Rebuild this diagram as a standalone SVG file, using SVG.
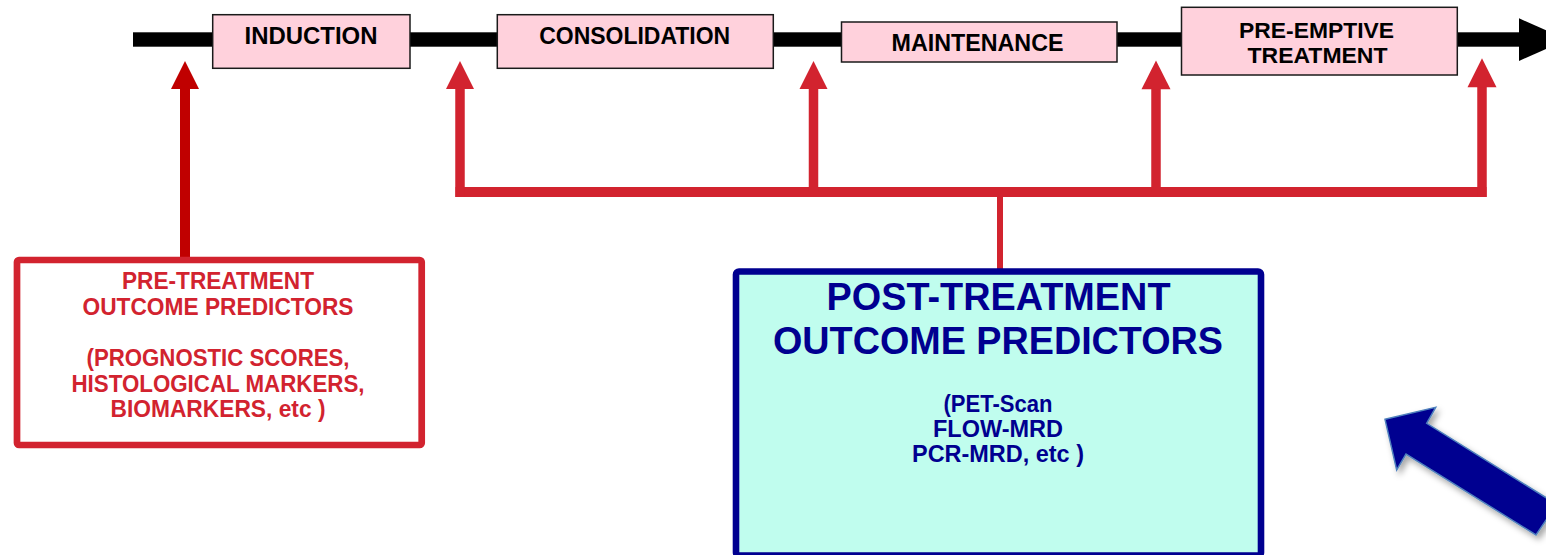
<svg xmlns="http://www.w3.org/2000/svg" width="1546" height="555" viewBox="0 0 1546 555">
  <style>
    .phase { fill: #FFD1DC; stroke: #1a1a1a; stroke-width: 1.5; }
    .lbl { font-family: "Liberation Sans", Arial, sans-serif; font-weight: bold; text-anchor: middle; }
    .dark { fill: #000000; }
    .red { fill: #D2232F; }
    .navy { fill: #000090; }
    .conn { stroke: #D2232F; fill: none; }
    .head { fill: #D2232F; }
  </style>
  <defs>
    <filter id="shadow" x="-20%" y="-20%" width="140%" height="140%">
      <feDropShadow dx="3" dy="4" stdDeviation="3" flood-color="#000000" flood-opacity="0.35"/>
    </filter>
  </defs>
  <rect width="1546" height="555" fill="#ffffff"/>

  <!-- timeline bar with arrowhead -->
  <g id="timeline">
    <rect x="133" y="32.3" width="1388" height="14.4" fill="#000000"/>
    <polygon points="1519,18.3 1567,39.5 1519,61" fill="#000000"/>
  </g>

  <!-- treatment phases -->
  <g id="induction">
    <rect class="phase" x="212.7" y="14.7" width="197.3" height="53.6"/>
    <text class="lbl dark" x="311" y="44" font-size="24" textLength="133" lengthAdjust="spacingAndGlyphs">INDUCTION</text>
  </g>
  <g id="consolidation">
    <rect class="phase" x="497.3" y="14.7" width="276" height="53.6"/>
    <text class="lbl dark" x="634.7" y="44" font-size="24" textLength="191" lengthAdjust="spacingAndGlyphs">CONSOLIDATION</text>
  </g>
  <g id="maintenance">
    <rect class="phase" x="841.5" y="22" width="275.5" height="40"/>
    <text class="lbl dark" x="977.5" y="50.7" font-size="23" textLength="172" lengthAdjust="spacingAndGlyphs">MAINTENANCE</text>
  </g>
  <g id="preemptive">
    <rect class="phase" x="1181.5" y="7.3" width="275.8" height="67.7"/>
    <text class="lbl dark" x="1316.5" y="37.7" font-size="21.5" textLength="155" lengthAdjust="spacingAndGlyphs">PRE-EMPTIVE</text>
    <text class="lbl dark" x="1317.5" y="62.7" font-size="21.5" textLength="140" lengthAdjust="spacingAndGlyphs">TREATMENT</text>
  </g>

  <!-- connectors -->
  <g id="connectors">
    <!-- pre-treatment arrow -->
    <rect x="180" y="88" width="10" height="170" fill="#C00000"/>
    <polygon points="185,61 199,89 171,89" fill="#C00000"/>

    <!-- post-treatment distribution bus -->
    <line class="conn" x1="1000" y1="196" x2="1000" y2="269" stroke-width="6"/>
    <line class="conn" x1="455.5" y1="192" x2="1486.5" y2="192" stroke-width="10"/>
    <line class="conn" x1="460" y1="87" x2="460" y2="197" stroke-width="9.5"/>
    <line class="conn" x1="813.5" y1="87" x2="813.5" y2="192" stroke-width="9.5"/>
    <line class="conn" x1="1156" y1="87" x2="1156" y2="192" stroke-width="9.5"/>
    <line class="conn" x1="1482" y1="85" x2="1482" y2="197" stroke-width="9.5"/>
    <polygon class="head" points="460,61 474,89 446,89"/>
    <polygon class="head" points="813.5,61 827.5,89 799.5,89"/>
    <polygon class="head" points="1156,60.5 1170.5,89.3 1141.5,89.3"/>
    <polygon class="head" points="1482,58.3 1496.5,87.3 1467.5,87.3"/>
  </g>

  <!-- pre-treatment predictors -->
  <g id="pre-treatment">
    <rect x="17" y="260" width="404.7" height="185" rx="2" fill="#ffffff" stroke="#D2232F" stroke-width="6.7"/>
    <text class="lbl red" x="218" y="289.3" font-size="24" textLength="192" lengthAdjust="spacingAndGlyphs">PRE-TREATMENT</text>
    <text class="lbl red" x="218" y="315" font-size="24" textLength="271" lengthAdjust="spacingAndGlyphs">OUTCOME PREDICTORS</text>
    <text class="lbl red" x="218" y="366" font-size="24" textLength="263" lengthAdjust="spacingAndGlyphs">(PROGNOSTIC SCORES,</text>
    <text class="lbl red" x="218" y="391.7" font-size="24" textLength="293" lengthAdjust="spacingAndGlyphs">HISTOLOGICAL MARKERS,</text>
    <text class="lbl red" x="218" y="417.3" font-size="24" textLength="215" lengthAdjust="spacingAndGlyphs">BIOMARKERS, etc )</text>
  </g>

  <!-- post-treatment predictors -->
  <g id="post-treatment">
    <rect x="736" y="271.5" width="525" height="284" rx="3" fill="#C0FDEE" stroke="#000090" stroke-width="6.6"/>
    <text class="lbl navy" x="998.5" y="310" font-size="39" textLength="344" lengthAdjust="spacingAndGlyphs">POST-TREATMENT</text>
    <text class="lbl navy" x="998" y="354" font-size="39" textLength="450" lengthAdjust="spacingAndGlyphs">OUTCOME PREDICTORS</text>
    <text class="lbl navy" x="998" y="411.7" font-size="24" textLength="109" lengthAdjust="spacingAndGlyphs">(PET-Scan</text>
    <text class="lbl navy" x="998" y="436.7" font-size="24" textLength="130" lengthAdjust="spacingAndGlyphs">FLOW-MRD</text>
    <text class="lbl navy" x="998" y="462" font-size="24" textLength="172" lengthAdjust="spacingAndGlyphs">PCR-MRD, etc )</text>
  </g>

  <!-- pointer arrow -->
  <g id="pointer">
    <polygon points="1385,419.3 1435.7,407.3 1426.7,423.3 1556.7,504.3 1536,535 1406,454 1396.7,470" fill="#000090" stroke="#4F81BD" stroke-width="1.5" stroke-linejoin="miter" filter="url(#shadow)"/>
  </g>
</svg>
